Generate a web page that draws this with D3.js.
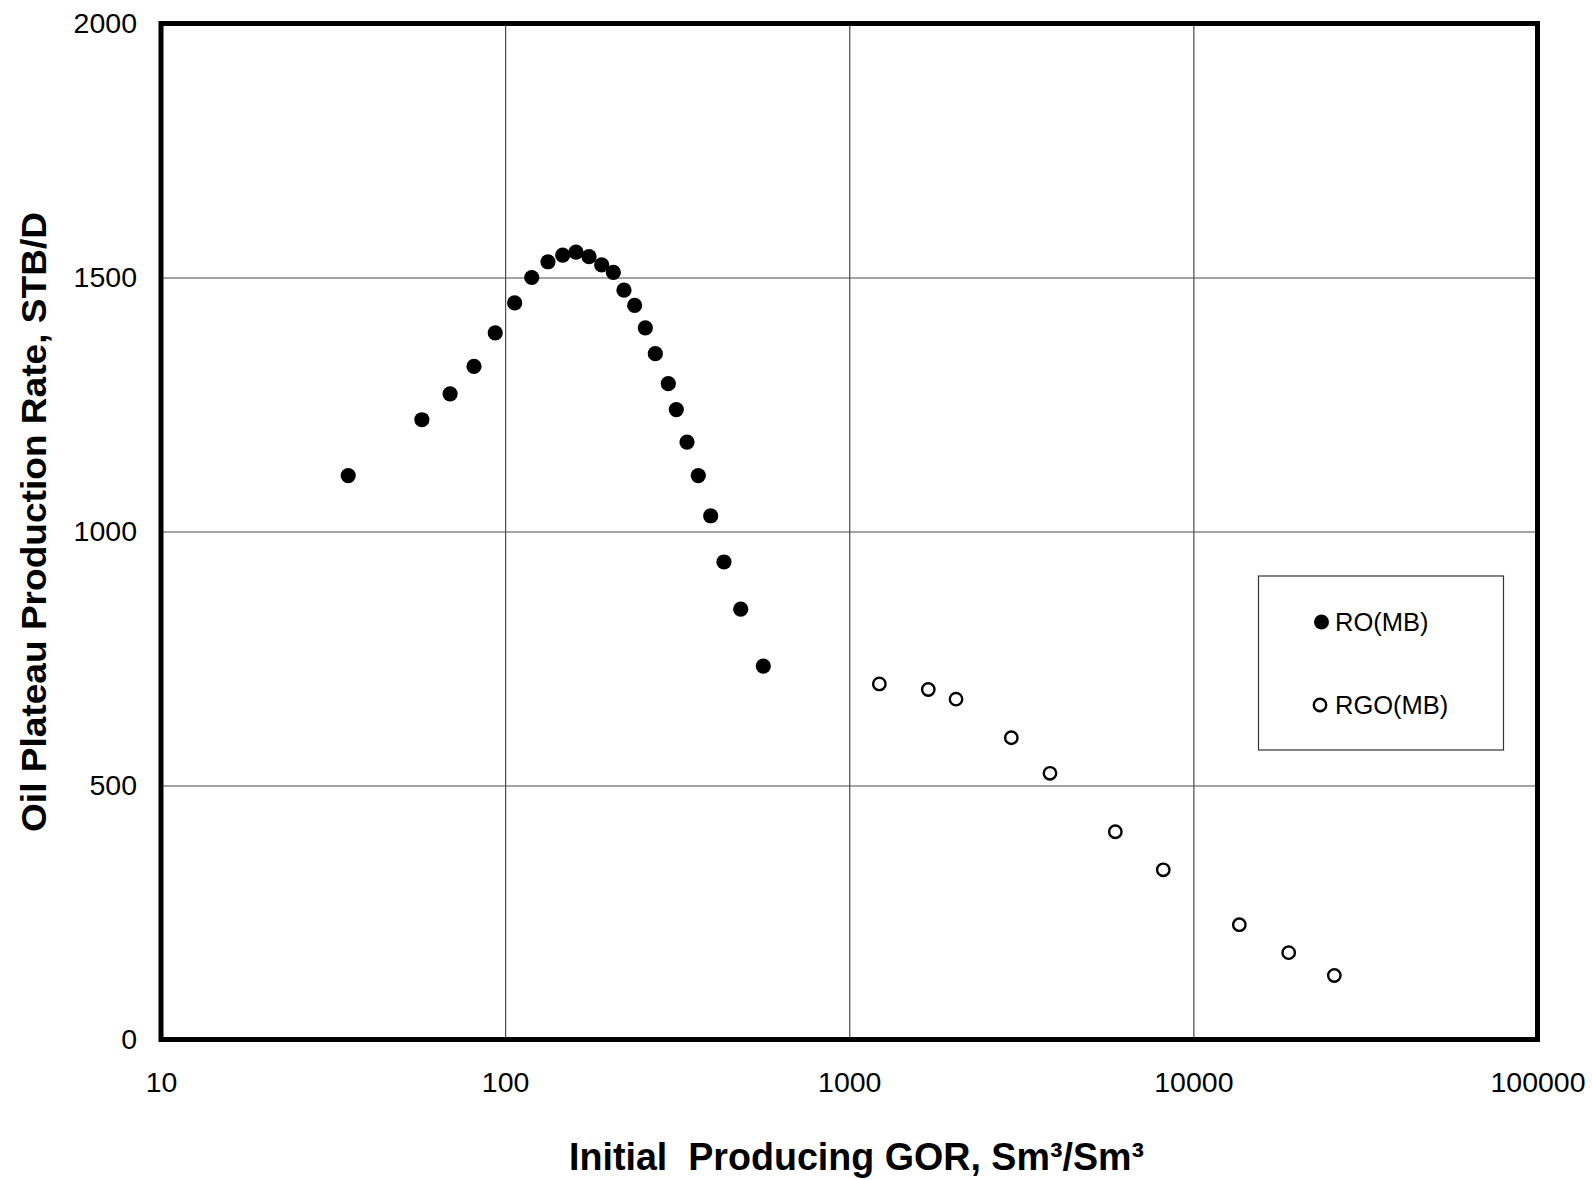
<!DOCTYPE html>
<html>
<head>
<meta charset="utf-8">
<script src="https://cdn.jsdelivr.net/npm/d3@7"></script>
<style>
  html, body { margin: 0; padding: 0; background: #fff; }
  svg { display: block; }
  text { font-family: "Liberation Sans", Arial, Helvetica, sans-serif; fill: #000; }
</style>
</head>
<body>
<svg id="chart" width="1592" height="1180"></svg>
<script>
// Oil plateau rate vs. initial producing GOR
const roGor  = [35, 57.3, 69.2, 81.2, 93.6, 106.6, 119.5, 133.2, 147, 160.7, 175.3, 190.8, 206.3,
                221.5, 237.9, 255.5, 273.2, 298, 314.4, 337.7, 364.2, 395.7, 432.5, 483.7, 562.6];
const roRate = [1110, 1220, 1271, 1325, 1391, 1450, 1500, 1531, 1544, 1550, 1541, 1525, 1510,
                1475, 1445, 1401, 1350, 1291, 1240, 1176, 1110, 1031, 940, 847, 735];

const rgoGor  = [1223, 1697, 2043, 2958, 3831, 5932, 8176, 13600, 18923, 25680];
const rgoRate = [700, 689, 670, 594, 524, 409, 334, 226, 171, 126];

const xTicks = [10, 100, 1000, 10000, 100000];
const yTicks = [0, 500, 1000, 1500, 2000];

const seriesNames = ["RO(MB)", "RGO(MB)"];

const svg = d3.select("#chart");

const plotLeft = 161, plotRight = 1537.5, plotTop = 23.5, plotBottom = 1039.5;

const x = d3.scaleLog().domain([10, 100000]).range([plotLeft, plotRight]);
const y = d3.scaleLinear().domain([0, 2000]).range([plotBottom, plotTop]);

// grid + tick labels
const gx = svg.append("g")
  .attr("transform", `translate(0,${plotBottom})`)
  .call(d3.axisBottom(x).tickValues(xTicks).tickFormat(d3.format("d"))
        .tickSize(-(plotBottom - plotTop)).tickPadding(32));
const gy = svg.append("g")
  .attr("transform", `translate(${plotLeft},0)`)
  .call(d3.axisLeft(y).tickValues(yTicks).tickFormat(d3.format("d"))
        .tickSize(-(plotRight - plotLeft)).tickPadding(24));

[gx, gy].forEach(g => {
  g.select(".domain").remove();
  g.selectAll(".tick line").attr("stroke", "#4a4a4a").attr("stroke-width", 1.2);
  g.selectAll(".tick text").attr("font-size", 28.5)
    .attr("font-family", "'Liberation Sans', Arial, sans-serif").attr("fill", "#000");
});

// plot frame
svg.append("rect")
  .attr("x", plotLeft).attr("y", plotTop)
  .attr("width", plotRight - plotLeft).attr("height", plotBottom - plotTop)
  .attr("fill", "none").attr("stroke", "#000").attr("stroke-width", 5);

// RO(MB) — filled markers
svg.append("g").selectAll("circle")
  .data(roGor.map((g, i) => [g, roRate[i]]))
  .join("circle")
  .attr("cx", d => x(d[0])).attr("cy", d => y(d[1]))
  .attr("r", 7.6).attr("fill", "#000");

// RGO(MB) — open markers
svg.append("g").selectAll("circle")
  .data(rgoGor.map((g, i) => [g, rgoRate[i]]))
  .join("circle")
  .attr("cx", d => x(d[0])).attr("cy", d => y(d[1]))
  .attr("r", 6.2).attr("fill", "#fff").attr("stroke", "#000").attr("stroke-width", 2.4);

// legend
const lg = svg.append("g");
lg.append("rect")
  .attr("x", 1258.5).attr("y", 576).attr("width", 245).attr("height", 174)
  .attr("fill", "#fff").attr("stroke", "#333").attr("stroke-width", 1.2);
lg.append("circle").attr("cx", 1321.5).attr("cy", 622).attr("r", 7.5).attr("fill", "#000");
lg.append("circle").attr("cx", 1320).attr("cy", 705).attr("r", 6.2)
  .attr("fill", "#fff").attr("stroke", "#000").attr("stroke-width", 2.4);
lg.selectAll("text.lbl").data(seriesNames).join("text").attr("class", "lbl")
  .attr("x", 1335).attr("y", (d, i) => i === 0 ? 622 : 705).attr("dy", "0.35em")
  .attr("font-size", 25.5).text(d => d);

// axis titles
svg.append("text")
  .attr("x", 856.5).attr("y", 1170).attr("text-anchor", "middle")
  .attr("font-size", 39).attr("font-weight", "bold")
  .attr("textLength", 575).attr("lengthAdjust", "spacingAndGlyphs")
  .text("Initial\u00A0\u00A0Producing GOR, Sm\u00B3/Sm\u00B3");

svg.append("text")
  .attr("transform", "translate(46,522) rotate(-90)")
  .attr("text-anchor", "middle")
  .attr("font-size", 35).attr("font-weight", "bold")
  .attr("textLength", 620).attr("lengthAdjust", "spacingAndGlyphs")
  .text("Oil Plateau Production Rate, STB/D");
</script>
</body>
</html>
